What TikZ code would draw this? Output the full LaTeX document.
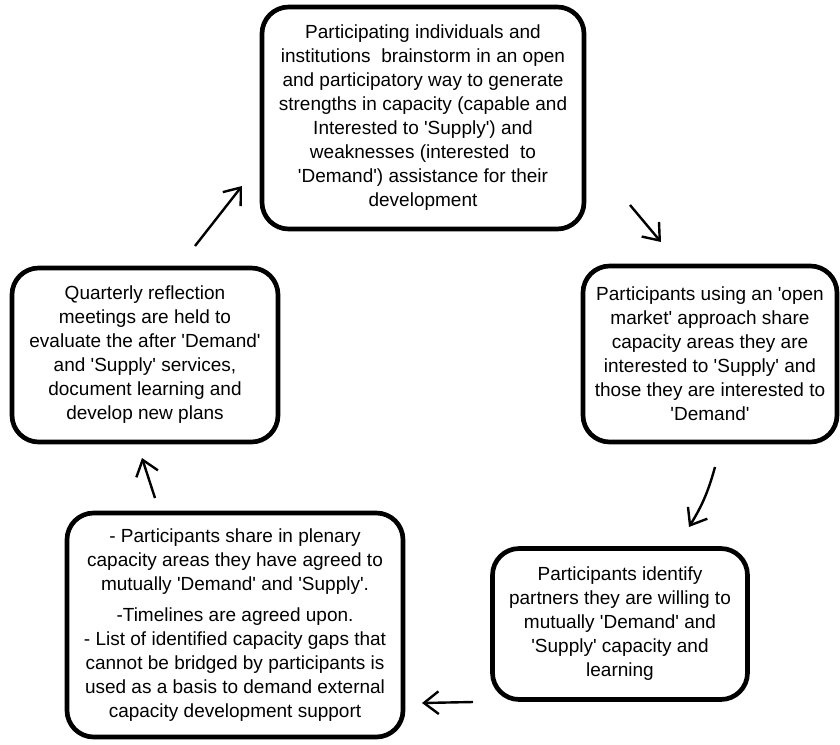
\documentclass[tikz,border=0pt]{standalone}
\usepackage{fontspec}
\setmainfont{Liberation Sans}
\usetikzlibrary{arrows.meta}

\newcommand{\aspa}{\textquotesingle}
\def\px{0.75pt}

\begin{document}
\begin{tikzpicture}[x=0.75pt, y=-0.75pt,
    etapa/.style={draw, line width=3.5pt, rounded corners=20pt, align=center, inner sep=0pt,
        font=\fontsize{14.25}{18}\selectfont},
    seta/.style={-{Straight Barb[length=11pt,width=17pt]}, line width=1.8pt}]

    \useasboundingbox (0,0) rectangle (840,744);

    % Etapas do ciclo
    \node[etapa, minimum width=322*\px, minimum height=222*\px] (brainstorm) at (423,118)
        {Participating individuals and\\ institutions\ \ brainstorm in an open\\ and participatory way to generate\\
         strengths in capacity (capable and\\ Interested to \aspa Supply\aspa) and\\ weaknesses (interested\ \ to\\
         \aspa Demand\aspa) assistance for their\\ development};
    \node[etapa, minimum width=254*\px, minimum height=176*\px] (mercado) at (710,354)
        {Participants using an \aspa open\\ market\aspa{} approach share\\ capacity areas they are\\
         interested to \aspa Supply\aspa{} and\\ those they are interested to\\ \aspa Demand\aspa};
    \node[etapa, minimum width=255*\px, minimum height=151*\px] (parceiros) at (620,624)
        {Participants identify\\ partners they are willing to\\ mutually \aspa Demand\aspa{} and\\
         \aspa Supply\aspa{} capacity and\\ learning};
    \node[etapa, minimum width=336*\px, minimum height=224*\px] (plenaria) at (235,625)
        {- Participants share in plenary\\ capacity areas they have agreed to\\ mutually \aspa Demand\aspa{} and \aspa Supply\aspa.\\[5pt]
         -Timelines are agreed upon.\\ - List of identified capacity gaps that\\ cannot be bridged by participants is\\
         used as a basis to demand external\\ capacity development support};
    \node[etapa, minimum width=266*\px, minimum height=174*\px] (reflexao) at (145,355)
        {Quarterly reflection\\ meetings are held to\\ evaluate the after \aspa Demand\aspa\\
         and \aspa Supply\aspa{} services,\\ document learning and\\ develop new plans};

    % Pontas das setas
    \coordinate (s1) at (630,205);
    \coordinate (t1) at (661,242);
    \coordinate (s2) at (715,467);
    \coordinate (t2) at (689,527);
    \coordinate (s3) at (473,702);
    \coordinate (t3) at (422,703);
    \coordinate (s4) at (155,498);
    \coordinate (t4) at (142,458);
    \coordinate (s5) at (195,246);
    \coordinate (t5) at (242,186);

    % Setas
    \draw[seta] (s1) -- (t1);
    \draw[seta] (s2) to[bend left=8] (t2);
    \draw[seta] (s3) -- (t3);
    \draw[seta] (s4) -- (t4);
    \draw[seta] (s5) -- (t5);

\end{tikzpicture}
\end{document}
